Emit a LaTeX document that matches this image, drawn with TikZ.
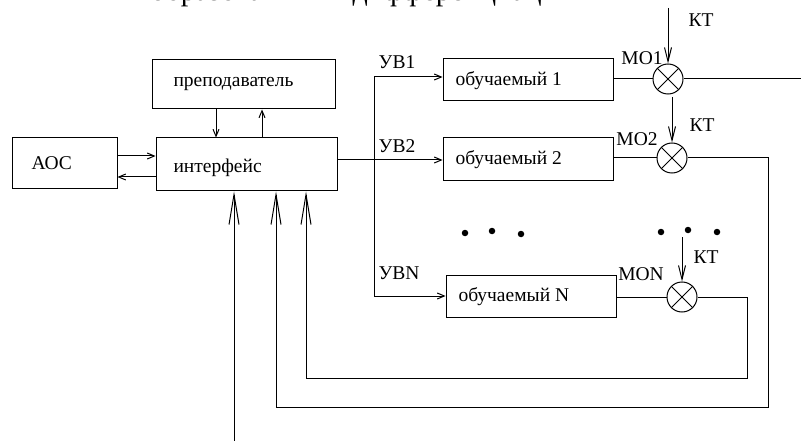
\documentclass[tikz,border=0pt]{standalone}
\usepackage{fontspec}
\setmainfont{Liberation Serif}
\usetikzlibrary{arrows.meta}
\begin{document}
\begin{tikzpicture}[x=1pt,y=-1pt,line width=1pt,
  arr/.style={-{Straight Barb[length=7pt,width=6pt]}},
  longarr/.style={-{Straight Barb[length=30pt,width=10pt]}},
  ktarr/.style={-{Straight Barb[length=14pt,width=7pt]}},
  box/.style={draw,rectangle,inner sep=0pt},
  txt/.style={inner sep=0pt,font=\fontsize{19.5}{22}\selectfont},
  mult/.style={draw,circle,minimum size=30pt,inner sep=0pt,
    path picture={\draw (path picture bounding box.north west) -- (path picture bounding box.south east)
      (path picture bounding box.north east) -- (path picture bounding box.south west);}},
  dot/.style={fill,circle,minimum size=6.5pt,inner sep=0pt}]
\useasboundingbox (0,0) rectangle (801,441);
% clipped line of text at the top
\node[inner sep=0pt,anchor=base west,font=\fontsize{30}{34}\selectfont] (topa) at (150,1) {образования};
\node[inner sep=0pt,anchor=base west,font=\fontsize{30}{34}\selectfont] (topb) at (352,1) {дифференциации};
% boxes
\node[box,minimum width=183pt,minimum height=49pt] (teach) at (243.5,84.5) {};
\node[txt,anchor=west] (teacht) at (173,84) {преподаватель};
\node[box,minimum width=181pt,minimum height=53pt] (iface) at (246.5,164.5) {};
\node[txt,anchor=west] (ifacet) at (173,168) {интерфейс};
\node[box,minimum width=105pt,minimum height=51pt] (aoc) at (64.5,163.5) {};
\node[txt,anchor=west] (aoct) at (31,163) {АОС};
\node[box,minimum width=170pt,minimum height=42pt] (s1) at (528,80) {};
\node[txt,anchor=west] (s1t) at (455,81) {обучаемый 1};
\node[box,minimum width=170pt,minimum height=43pt] (s2) at (528,159.5) {};
\node[txt,anchor=west] (s2t) at (455,160) {обучаемый 2};
\node[box,minimum width=170pt,minimum height=42pt] (sN) at (531,296) {};
\node[txt,anchor=west] (sNt) at (458,297) {обучаемый N};
% multipliers
\node[mult] (m1) at (668,79) {};
\node[mult] (m2) at (672,158) {};
\node[mult] (mN) at (682,297) {};
% labels
\node[txt] (uv1) at (397,62) {УВ1};
\node[txt] (uv2) at (397,146) {УВ2};
\node[txt] (uvN) at (399,273) {УВN};
\node[txt] (mo1) at (642,58) {МО1};
\node[txt] (mo2) at (637,139) {МО2};
\node[txt] (moN) at (641,274) {МОN};
\node[txt] (kt1) at (701,20) {КТ};
\node[txt] (kt2) at (702,125) {КТ};
\node[txt] (ktN) at (706,257) {КТ};
% dots
\node[dot] (d1) at (465,233) {};
\node[dot] (d2) at (492,231) {};
\node[dot] (d3) at (521,234) {};
\node[dot] (d4) at (661,232) {};
\node[dot] (d5) at (688,230) {};
\node[dot] (d6) at (717,232) {};
% coordinates
\coordinate (bt) at (374,77);
\coordinate (bm) at (374,160);
\coordinate (bb) at (374,296);
\coordinate (k1) at (668,8);
\coordinate (k2) at (672,97);
\coordinate (kN) at (682,237);
\coordinate (out1) at (801,79);
\coordinate (r2) at (768,407);
\coordinate (f2) at (276,407);
\coordinate (rN) at (747,378);
\coordinate (fN) at (306,378);
\coordinate (f0) at (234,441);
% connectors
\draw[arr] ([yshift=7.5pt]aoc.east) -- ([yshift=7.5pt]aoc.east -| iface.west);
\draw[arr] ([yshift=-12.5pt]iface.west) -- ([yshift=-12.5pt]iface.west -| aoc.east);
\draw[arr] ([xshift=-27.5pt]teach.south) -- ([xshift=-27.5pt]teach.south |- iface.north);
\draw[arr] ([xshift=15.5pt]iface.north) -- ([xshift=15.5pt]iface.north |- teach.south);
\draw (iface.east |- bm) -- (bm);
\draw (bt) -- (bb);
\draw[arr] (bt) -- (bt -| s1.west);
\draw[arr] (bm) -- (bm -| s2.west);
\draw[arr] (bb) -- (bb -| sN.west);
\draw (s1.east |- m1) -- (m1.west);
\draw (s2.east |- m2) -- (m2.west);
\draw (sN.east |- mN) -- (mN.west);
\draw (m1.east) -- (out1);
\draw[ktarr] (k1) -- (m1.north);
\draw[ktarr] (k2) -- (m2.north);
\draw[ktarr] (kN) -- (mN.north);
\draw[longarr] (m2.east) -| (r2) -- (f2) -- (f2 |- iface.south);
\draw[longarr] (mN.east) -| (rN) -- (fN) -- (fN |- iface.south);
\draw[longarr] (f0) -- (f0 |- iface.south);
\end{tikzpicture}
\end{document}
